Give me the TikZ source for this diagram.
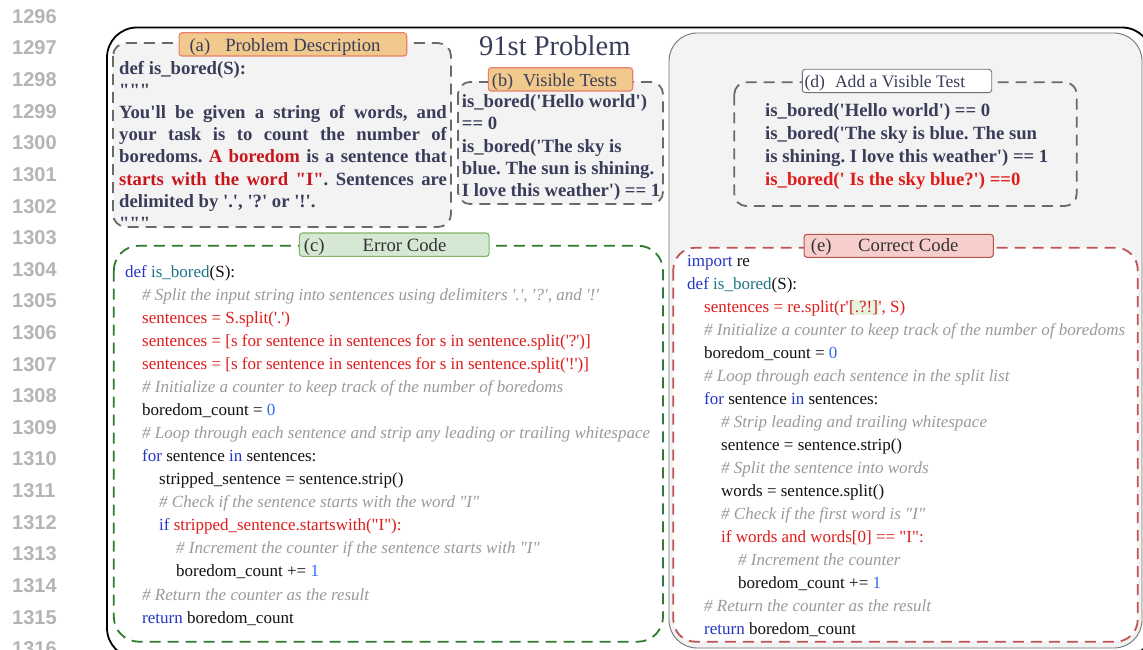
\documentclass[tikz,border=0pt]{standalone}
\usepackage{fontspec}
\newfontfamily\rmf{Liberation Serif}
\newfontfamily\sff{Liberation Sans}
\frenchspacing

\definecolor{lnumgray}{HTML}{B4B4B4}
\definecolor{navy}{HTML}{3A3D5A}
\definecolor{boldred}{HTML}{C8161C}
\definecolor{panel}{HTML}{F3F3F3}
\definecolor{boxfill}{HTML}{F3F3F4}
\definecolor{dashgray}{HTML}{6A6A6A}
\definecolor{orfill}{HTML}{F2C98C}
\definecolor{orline}{HTML}{E8806A}
\definecolor{grfill}{HTML}{D5E8D4}
\definecolor{grline}{HTML}{82B366}
\definecolor{grdash}{HTML}{2E7A2E}
\definecolor{pkfill}{HTML}{F8CECC}
\definecolor{pkline}{HTML}{B85450}
\definecolor{rddash}{HTML}{C05252}
\definecolor{kwblue}{HTML}{2236C4}
\definecolor{fnteal}{HTML}{1C7487}
\definecolor{numblue}{HTML}{2D6BF0}
\definecolor{cmgray}{HTML}{9A9A9A}
\definecolor{codered}{HTML}{E01B1B}
\definecolor{codeblack}{HTML}{111111}
\definecolor{hlgreen}{HTML}{E6F4E1}

% syntax colouring helpers
\newcommand\ckw[1]{\textcolor{kwblue}{#1}}
\newcommand\cfn[1]{\textcolor{fnteal}{#1}}
\newcommand\cnum[1]{\textcolor{numblue}{#1}}
\newcommand\ccm[1]{\textcolor{cmgray}{\itshape #1}}
\newcommand\crd[1]{\textcolor{codered}{#1}}
\newcommand\chl[1]{{\setlength{\fboxsep}{0.6pt}\colorbox{hlgreen}{#1}}}

\tikzset{
  lnum/.style={anchor=base west, inner sep=0pt, text=lnumgray,
    font=\sff\bfseries\fontsize{20}{24}\selectfont},
  dashbox/.style={draw=dashgray, line width=1.8pt, dash pattern=on 11pt off 7pt},
  labbox/.style={rounded corners=3pt, line width=1.1pt, inner sep=0pt},
  labtext/.style={anchor=base west, inner sep=0pt, text=navy,
    font=\rmf\fontsize{18.7}{22}\selectfont},
  boldln/.style={anchor=base west, inner sep=0pt, text=navy,
    font=\rmf\bfseries\fontsize{18.7}{22}\selectfont},
  code/.style={anchor=base west, inner sep=0pt, text=codeblack,
    font=\rmf\fontsize{17}{20}\selectfont},
}

\begin{document}
\begin{tikzpicture}[x=1pt,y=-1pt]
\useasboundingbox (0,0) rectangle (1143,650);
\clip (0,0) rectangle (1143,650);

% margin line numbers
\foreach \k in {0,...,20} {
  \pgfmathtruncatemacro\n{1296+\k}
  \node[lnum] (ln\k) at (12,{23.3+31.62*\k}) {\n};
}

% outer frame
\draw[line width=1.8pt, rounded corners=30pt] (107,27.5) rectangle (1152,658);

% right grey panel
\draw[draw=black!55, fill=panel, line width=0.9pt, rounded corners=28pt]
  (669,33) rectangle (1142,648);

% title
\node[anchor=base west, inner sep=0pt, text=navy,
  font=\rmf\fontsize{28.5}{32}\selectfont] (title) at (479,56) {91st Problem};

% dashed section boxes
\draw[dashbox, fill=boxfill, rounded corners=13pt] (113,43) rectangle (451,227);
\draw[dashbox, fill=boxfill, rounded corners=12pt] (458,82) rectangle (663,204);
\draw[dashbox, rounded corners=12pt] (734.3,82.3) rectangle (1076.7,206);
\draw[draw=grdash, line width=1.8pt, dash pattern=on 11pt off 7pt, fill=white,
  rounded corners=25pt] (113.8,245.7) rectangle (663,641.7);
\draw[draw=rddash, line width=1.8pt, dash pattern=on 11pt off 7pt, fill=white,
  rounded corners=22pt] (673.3,247.7) rectangle (1137.7,641.7);

% section labels
\node[labbox, fill=orfill, draw=orline, minimum width=227.7pt, minimum height=23.3pt]
  (la) at (292.9,44.4) {};
\node[labtext] (lat) at (189.3,51.5) {(a)\hspace{15pt}Problem Description};

\node[labbox, fill=orfill, draw=orline, minimum width=144.4pt, minimum height=23.3pt]
  (lb) at (560.5,79.4) {};
\node[labtext, font=\rmf\fontsize{18.3}{22}\selectfont] (lbt) at (491.7,86.7)
  {(b)\hspace{10pt}Visible Tests};

\node[labbox, fill=white, draw=black!55, line width=0.9pt, minimum width=189.4pt,
  minimum height=23.4pt] (ld) at (897,81) {};
\node[labtext, font=\rmf\fontsize{17.6}{22}\selectfont] (ldt) at (804.3,87.7)
  {(d)\hspace{10pt}Add a Visible Test};

\node[labbox, fill=grfill, draw=grline, minimum width=189.7pt, minimum height=23.4pt]
  (lc) at (394.2,244.7) {};
\node[labtext, text=black!80] (lct) at (303.6,251) {(c)};
\node[labtext, text=black!80] (lct2) at (362.5,251) {Error Code};

\node[labbox, fill=pkfill, draw=pkline, minimum width=189.3pt, minimum height=23pt]
  (le) at (898.7,245.8) {};
\node[labtext, text=black!80] (let) at (810.7,251.7) {(e)};
\node[labtext, text=black!80] (let2) at (858,251.7) {Correct Code};

% (a) problem description
\node[boldln] (a1) at (119,75) {def is\_bored(S):};
\node[boldln] (a2) at (119,97) {"""};
\node[boldln] (a3) at (119,119) {\makebox[327.7pt][s]{You'll be given a string of words, and}};
\node[boldln] (a4) at (119,141) {\makebox[327.7pt][s]{your task is to count the number of}};
\node[boldln] (a5) at (119,163) {\makebox[327.7pt][s]{boredoms. \textcolor{boldred}{A boredom} is a sentence that}};
\node[boldln] (a6) at (119,185) {\makebox[327.7pt][s]{\textcolor{boldred}{starts with the word "I"}. Sentences are}};
\node[boldln] (a7) at (119,207) {delimited by '.', '?' or '!'.};
\node[boldln] (a8) at (119,229) {"""};

% (b) visible tests
\node[boldln] (b1) at (461.7,107.3) {is\_bored('Hello world')};
\node[boldln] (b2) at (461.7,129.7) {== 0};
\node[boldln] (b3) at (461.7,152.1) {is\_bored('The sky is};
\node[boldln] (b4) at (461.7,174.5) {blue. The sun is shining.};
\node[boldln] (b5) at (461.7,196.9) {I love this weather') == 1};

% (d) added visible test
\node[boldln] (d1) at (765,116.7) {is\_bored('Hello world') == 0};
\node[boldln] (d2) at (765,139.5) {is\_bored('The sky is blue. The sun};
\node[boldln] (d3) at (765,162.3) {is shining. I love this weather') == 1};
\node[boldln, text=codered] (d4) at (765,185.3) {is\_bored(' Is the sky blue?') ==0};

% (c) error code
\node[code] (c1)  at (125,277)   {\ckw{def} \cfn{is\_bored}(S):};
\node[code] (c2)  at (142,300.1) {\ccm{\# Split the input string into sentences using delimiters '.', '?', and '!'}};
\node[code] (c3)  at (142,323.1) {\crd{sentences = S.split('.')}};
\node[code] (c4)  at (142,346.2) {\crd{sentences = [s for sentence in sentences for s in sentence.split('?')]}};
\node[code] (c5)  at (142,369.3) {\crd{sentences = [s for sentence in sentences for s in sentence.split('!')]}};
\node[code] (c6)  at (142,392.4) {\ccm{\# Initialize a counter to keep track of the number of boredoms}};
\node[code] (c7)  at (142,415.4) {boredom\_count = \cnum{0}};
\node[code] (c8)  at (142,438.5) {\ccm{\# Loop through each sentence and strip any leading or trailing whitespace}};
\node[code] (c9)  at (142,461.6) {\ckw{for} sentence \ckw{in} sentences:};
\node[code] (c10) at (159,484.6) {stripped\_sentence = sentence.strip()};
\node[code] (c11) at (159,507.7) {\ccm{\# Check if the sentence starts with the word "I"}};
\node[code] (c12) at (159,530.8) {\ckw{if} \crd{stripped\_sentence.startswith("I"):}};
\node[code] (c13) at (176,553.8) {\ccm{\# Increment the counter if the sentence starts with "I"}};
\node[code] (c14) at (176,576.9) {boredom\_count += \cnum{1}};
\node[code] (c15) at (142,600)   {\ccm{\# Return the counter as the result}};
\node[code] (c16) at (142,623.1) {\ckw{return} boredom\_count};

% (e) correct code
\node[code] (e1)  at (687,266) {\ckw{import} re};
\node[code] (e2)  at (687,289) {\ckw{def} \cfn{is\_bored}(S):};
\node[code] (e3)  at (704,312) {\crd{sentences = re.split(r'\chl{[.?!]}', S)}};
\node[code] (e4)  at (704,335) {\ccm{\# Initialize a counter to keep track of the number of boredoms}};
\node[code] (e5)  at (704,358) {boredom\_count = \cnum{0}};
\node[code] (e6)  at (704,381) {\ccm{\# Loop through each sentence in the split list}};
\node[code] (e7)  at (704,404) {\ckw{for} sentence \ckw{in} sentences:};
\node[code] (e8)  at (721,427) {\ccm{\# Strip leading and trailing whitespace}};
\node[code] (e9)  at (721,450) {sentence = sentence.strip()};
\node[code] (e10) at (721,473) {\ccm{\# Split the sentence into words}};
\node[code] (e11) at (721,496) {words = sentence.split()};
\node[code] (e12) at (721,519) {\ccm{\# Check if the first word is "I"}};
\node[code] (e13) at (721,542) {\crd{if words and words[0] == "I":}};
\node[code] (e14) at (738,565) {\ccm{\# Increment the counter}};
\node[code] (e15) at (738,588) {boredom\_count += \cnum{1}};
\node[code] (e16) at (704,611) {\ccm{\# Return the counter as the result}};
\node[code] (e17) at (704,634) {\ckw{return} boredom\_count};
\end{tikzpicture}
\end{document}
